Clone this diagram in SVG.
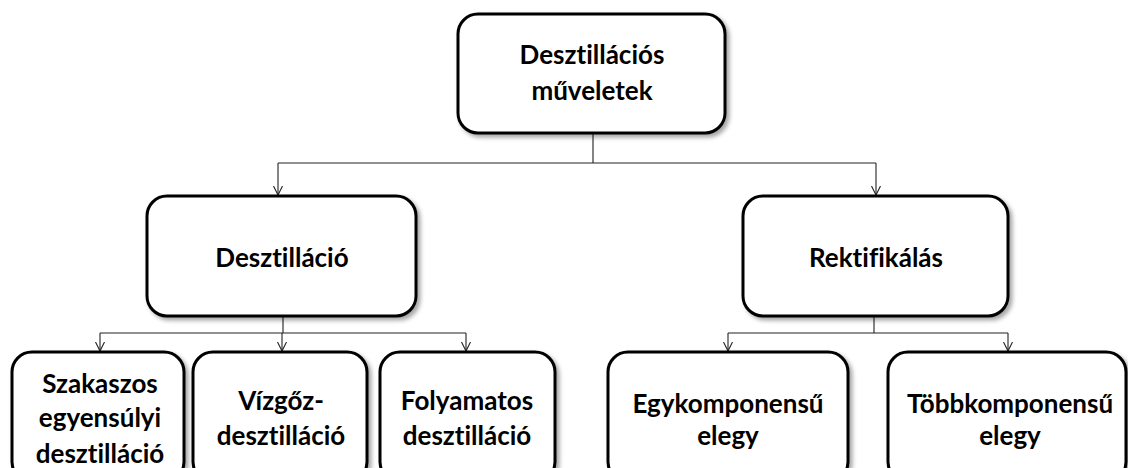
<svg xmlns="http://www.w3.org/2000/svg" width="1128" height="468" viewBox="0 0 1128 468">
  <defs>
    <filter id="shadow" x="-10%" y="-10%" width="125%" height="130%">
      <feDropShadow dx="3" dy="3" stdDeviation="2" flood-color="#000" flood-opacity="0.35"/>
    </filter>
    <marker id="arrow" viewBox="0 0 10 10" refX="9" refY="5" markerWidth="10" markerHeight="10" markerUnits="userSpaceOnUse" orient="auto">
      <path d="M0,0.5 L9,5 L0,9.5" fill="none" stroke="#222" stroke-width="1.1"/>
    </marker>
  </defs>
  <style>
    .box { fill: #fff; stroke: #000; stroke-width: 3; filter: url(#shadow); }
    .lbl { font-family: Lato, "Liberation Sans", sans-serif; font-weight: bold; font-size: 26px; fill: #000; text-anchor: middle; font-variant-ligatures: none; font-feature-settings: "liga" 0; }
    .wire { fill: none; stroke: #222; stroke-width: 1.1; }
  </style>
  <rect width="1128" height="468" fill="#fff"/>

  <g id="connectors">
    <path class="wire" d="M593,133 V163 M278,163 H876"/>
    <path class="wire" d="M278,163 V195" marker-end="url(#arrow)"/>
    <path class="wire" d="M876,163 V195" marker-end="url(#arrow)"/>
    <path class="wire" d="M283,316 V333 M100,333 H466"/>
    <path class="wire" d="M100,333 V351" marker-end="url(#arrow)"/>
    <path class="wire" d="M282,333 V351" marker-end="url(#arrow)"/>
    <path class="wire" d="M466,333 V351" marker-end="url(#arrow)"/>
    <path class="wire" d="M874,316 V333 M728,333 H1008"/>
    <path class="wire" d="M728,333 V351" marker-end="url(#arrow)"/>
    <path class="wire" d="M1008,333 V351" marker-end="url(#arrow)"/>
  </g>

  <g id="node-desztillacios-muveletek">
    <rect class="box" x="458" y="14" width="267" height="119" rx="20"/>
    <text class="lbl" x="592" y="64">Desztillációs</text>
    <text class="lbl" x="592" y="100">műveletek</text>
  </g>

  <g id="node-desztillacio">
    <rect class="box" x="147" y="196" width="269" height="120" rx="20"/>
    <text class="lbl" x="282" y="267">Desztilláció</text>
  </g>

  <g id="node-rektifikalas">
    <rect class="box" x="743" y="196" width="265" height="120" rx="20"/>
    <text class="lbl" x="876" y="267">Rektifikálás</text>
  </g>

  <g id="node-szakaszos">
    <rect class="box" x="12" y="352" width="172" height="130" rx="20"/>
    <text class="lbl" x="100" y="393">Szakaszos</text>
    <text class="lbl" x="100" y="427">egyensúlyi</text>
    <text class="lbl" x="100" y="463">desztilláció</text>
  </g>

  <g id="node-vizgoz">
    <rect class="box" x="193" y="352" width="174" height="130" rx="20"/>
    <text class="lbl" x="281" y="410">Vízgőz-</text>
    <text class="lbl" x="281" y="445">desztilláció</text>
  </g>

  <g id="node-folyamatos">
    <rect class="box" x="380" y="352" width="175" height="130" rx="20"/>
    <text class="lbl" x="467" y="410">Folyamatos</text>
    <text class="lbl" x="467" y="445">desztilláció</text>
  </g>

  <g id="node-egykomponensu">
    <rect class="box" x="608" y="352" width="240" height="130" rx="20"/>
    <text class="lbl" x="728" y="413">Egykomponensű</text>
    <text class="lbl" x="728" y="445">elegy</text>
  </g>

  <g id="node-tobbkomponensu">
    <rect class="box" x="888" y="352" width="238" height="130" rx="20"/>
    <text class="lbl" x="1010" y="413">Többkomponensű</text>
    <text class="lbl" x="1010" y="445">elegy</text>
  </g>
</svg>
